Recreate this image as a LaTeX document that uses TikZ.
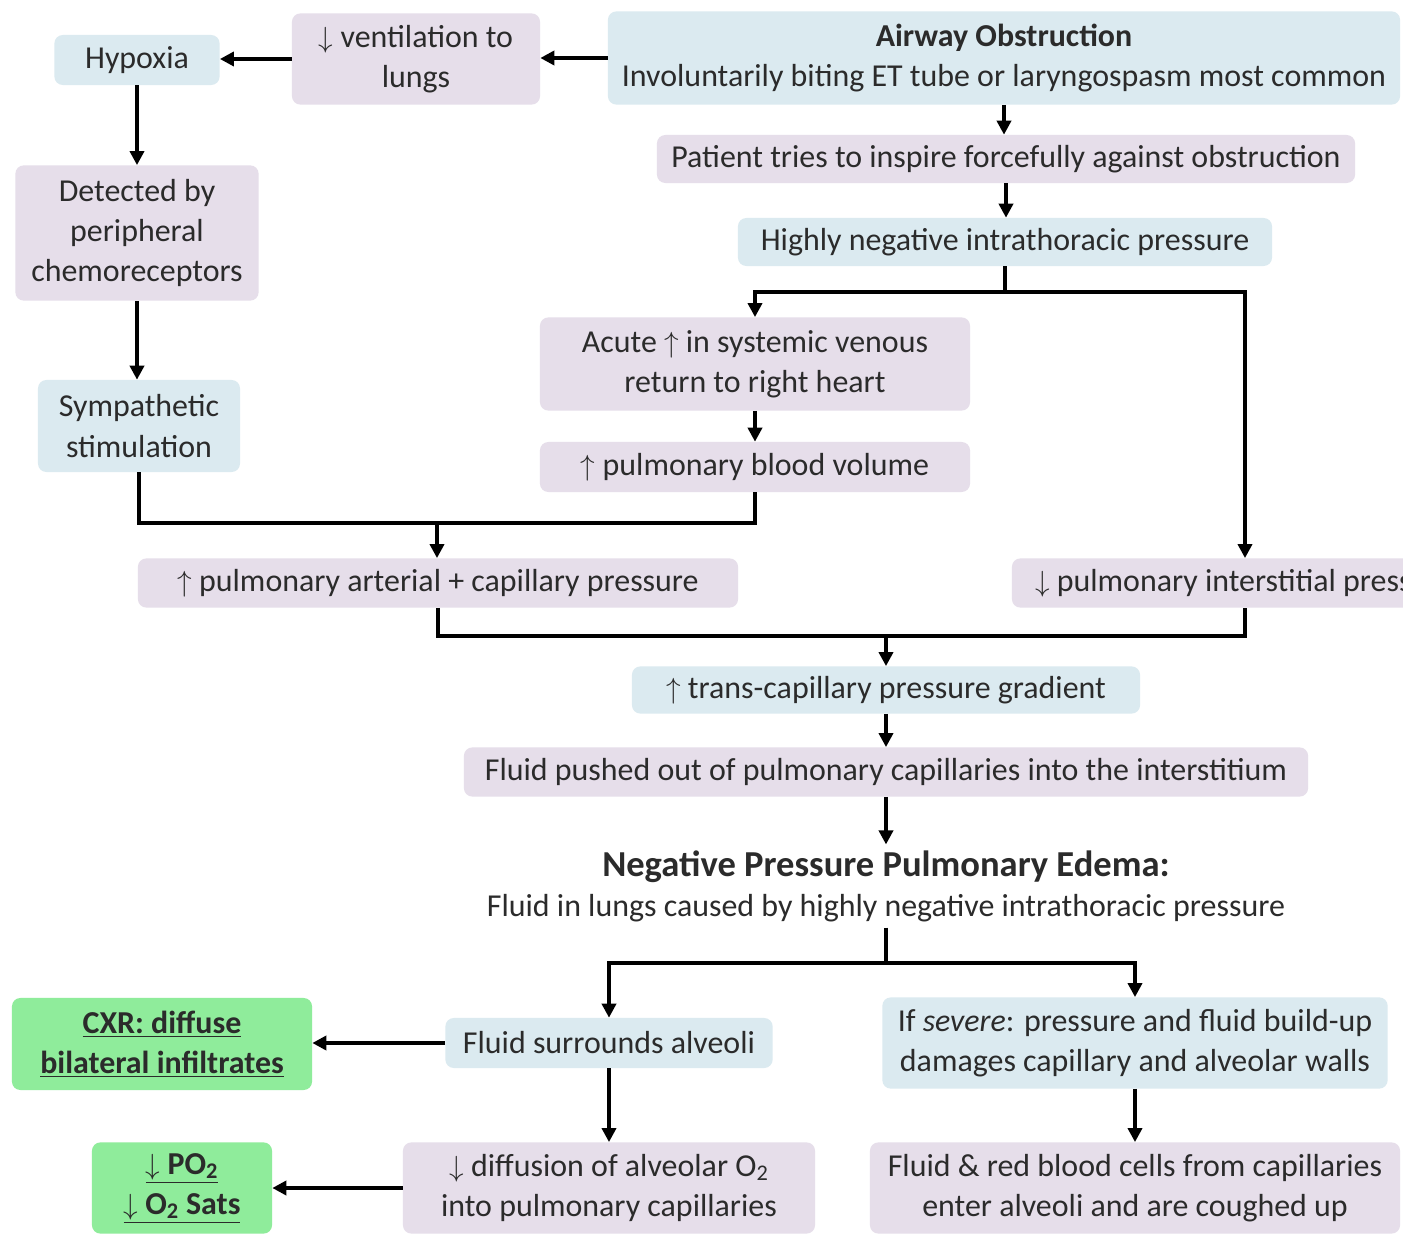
\documentclass[tikz,border=0pt]{standalone}
\usepackage{fontspec}
\setmainfont{Carlito}
\usepackage{tikz}
\usetikzlibrary{arrows.meta,positioning,calc}
\definecolor{edblue}{HTML}{DBEAF0}
\definecolor{edlilac}{HTML}{E6DEEA}
\definecolor{edgreen}{HTML}{8FEC9B}
\definecolor{edtext}{HTML}{2B2B2B}
\newcommand{\incr}{$\uparrow$}
\newcommand{\decr}{$\downarrow$}

\begin{document}
\begin{tikzpicture}[
  x=0.025cm,y=-0.025cm,
  base/.style={rounded corners=6pt,align=center,text=edtext,inner sep=2pt,font=\fontsize{22.7}{28.5}\selectfont},
  blu/.style={base,fill=edblue},
  lil/.style={base,fill=edlilac},
  grn/.style={base,fill=edgreen,font=\fontsize{22.7}{28.5}\selectfont\bfseries},
  sz/.style 2 args={minimum width=#1cm,minimum height=#2cm},
  arr/.style={-{Triangle[length=10pt,width=10pt]},line width=2.6pt},
  lnk/.style={line width=2.6pt}]
  \useasboundingbox (0,0) rectangle (1403,1241);
  \clip (0,0) rectangle (1403,1241);
  \fill[white] (0,0) rectangle (1403,1241);
  % top row and left column
  \node[blu,sz={4.13}{1.25}] (hypoxia) at (137,60) {Hypoxia};
  \node[lil,sz={6.2}{2.28}] (vent) at (416,59) {\decr{} ventilation to\\lungs};
  \node[blu,sz={19.8}{2.33}] (airway) at (1004,58) {\textbf{Airway Obstruction}\\Involuntarily biting ET tube or laryngospasm most common};
  \node[lil,sz={17.45}{1.2}] (inspire) at (1006,159) {Patient tries to inspire forcefully against obstruction};
  \node[blu,sz={13.35}{1.2}] (negp) at (1005,242) {Highly negative intrathoracic pressure};
  \node[lil,sz={6.08}{3.38}] (chemo) at (137,233) {Detected by\\peripheral\\chemoreceptors};
  \node[blu,sz={5.05}{2.3}] (symp) at (139,426) {Sympathetic\\stimulation};
  % middle
  \node[lil,sz={10.75}{2.33}] (venous) at (755,364) {Acute \incr{} in systemic venous\\return to right heart};
  \node[lil,sz={10.75}{1.25}] (bloodvol) at (755,467) {\incr{} pulmonary blood volume};
  \node[lil,sz={15}{1.23}] (artcap) at (438,583) {\incr{} pulmonary arterial + capillary pressure};
  \node[lil,sz={11.65}{1.23}] (interst) at (1245,583) {\decr{} pulmonary interstitial pressure};
  \node[blu,sz={12.7}{1.18}] (transcap) at (886,690) {\incr{} trans-capillary pressure gradient};
  \node[lil,sz={21.1}{1.23}] (pushed) at (886,772) {Fluid pushed out of pulmonary capillaries into the interstitium};
  \node[base,inner sep=4pt] (npe) at (886,886) {{\fontsize{26}{30}\selectfont\bfseries Negative Pressure Pulmonary Edema:}\\Fluid in lungs caused by highly negative intrathoracic pressure};
  % bottom
  \node[blu,sz={8.18}{1.25}] (alveoli) at (609,1043) {Fluid surrounds alveoli};
  \node[blu,sz={12.63}{2.28}] (severe) at (1135,1043) {If \textit{severe}: pressure and fluid build-up\\damages capillary and alveolar walls};
  \node[grn,sz={7.5}{2.3}] (cxr) at (162,1044) {\underline{CXR: diffuse}\\\underline{bilateral infiltrates}};
  \node[lil,sz={10.3}{2.28}] (diffuse) at (609,1188) {\decr{} diffusion of alveolar O\textsubscript{2}\\into pulmonary capillaries};
  \node[grn,sz={4.5}{2.28}] (sats) at (182,1188) {\underline{\decr{} PO\textsubscript{2}}\\\underline{\decr{} O\textsubscript{2} Sats}};
  \node[lil,sz={13.25}{2.28}] (rbc) at (1135,1188) {Fluid \& red blood cells from capillaries\\enter alveoli and are coughed up};
  % junctions
  \coordinate (split1) at (1005,292);
  \coordinate (join1) at (437,523);
  \coordinate (join2) at (886,636);
  \coordinate (split2) at (886,963);
  % connectors
  \draw[arr] (airway.west) -- (airway.west -| vent.east);
  \draw[arr] (vent.west) -- (vent.west -| hypoxia.east);
  \draw[arr] (hypoxia.south) -- (chemo.north);
  \draw[arr] (chemo.south) -- (chemo.south |- symp.north);
  \draw[arr] (airway.south) -- (airway.south |- inspire.north);
  \draw[arr] (inspire.south) -- (inspire.south |- negp.north);
  \draw[lnk] (negp.south) -- (split1);
  \draw[arr] (split1) -| (venous.north);
  \draw[arr] (split1) -| (interst.north);
  \draw[arr] (venous.south) -- (bloodvol.north);
  \draw[lnk] (symp.south) |- (join1) -| (bloodvol.south);
  \draw[arr] (join1) -- (join1 |- artcap.north);
  \draw[lnk] (artcap.south) |- (join2) -| (interst.south);
  \draw[arr] (join2) -- (transcap.north);
  \draw[arr] (transcap.south) -- (pushed.north);
  \draw[arr] (pushed.south) -- (npe.north);
  \draw[lnk] (npe.south) -- (split2);
  \draw[arr] (split2) -| (alveoli.north);
  \draw[arr] (split2) -| (severe.north);
  \draw[arr] (alveoli.west) -- (alveoli.west -| cxr.east);
  \draw[arr] (alveoli.south) -- (diffuse.north);
  \draw[arr] (diffuse.west) -- (diffuse.west -| sats.east);
  \draw[arr] (severe.south) -- (rbc.north);
\end{tikzpicture}
\end{document}
